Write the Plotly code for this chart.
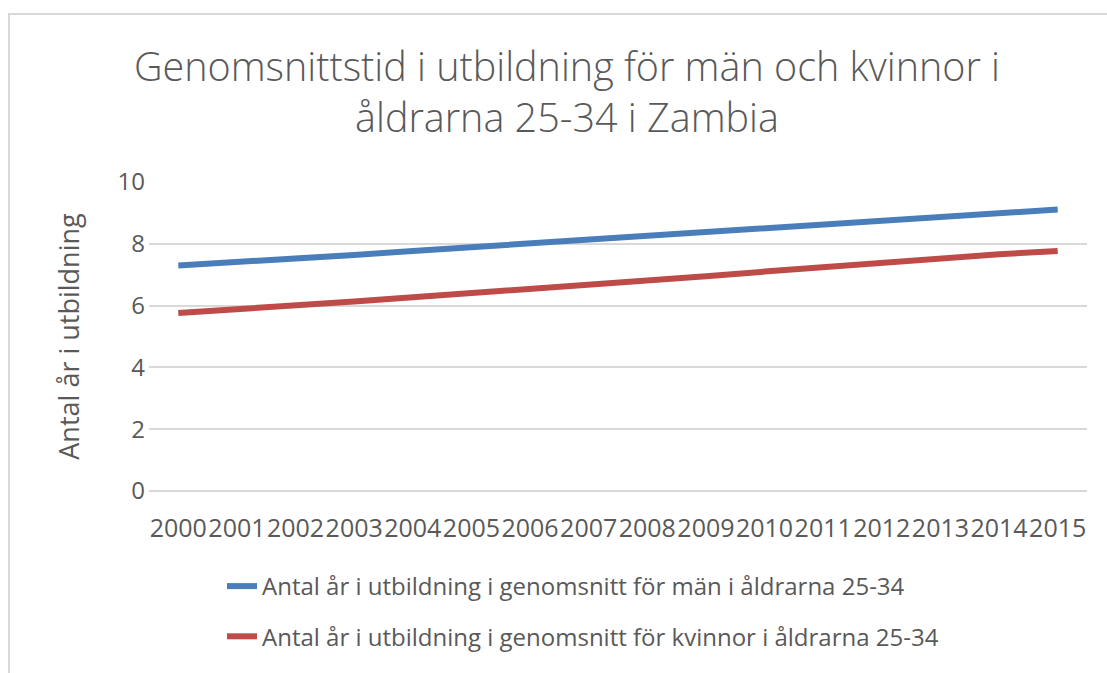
import plotly.graph_objects as go

years = list(range(2000, 2016))
men = [7.30, 7.40, 7.52, 7.64, 7.77, 7.89, 8.02, 8.13, 8.26, 8.39, 8.52, 8.64, 8.76, 8.88, 8.99, 9.11]
women = [5.76, 5.87, 6.00, 6.13, 6.27, 6.40, 6.53, 6.65, 6.80, 6.95, 7.10, 7.25, 7.40, 7.54, 7.66, 7.77]
series_names = [
    "Antal år i utbildning i genomsnitt för män i åldrarna 25-34",
    "Antal år i utbildning i genomsnitt för kvinnor i åldrarna 25-34",
]
series_colors = ["#4a7ebb", "#be4b48"]
title_text = "Genomsnittstid i utbildning för män och kvinnor i<br>åldrarna 25-34 i Zambia"
y_title = "Antal år i utbildning"
y_ticks = [0, 2, 4, 6, 8, 10]

W, H = 1107, 673
L, R, T, B = 149, 20, 182, 182
pw, ph = W - L - R, H - T - B

def px_x(p):
    return (p - L) / pw

def px_y(p):
    return (H - B - p) / ph

FONT = "Open Sans"
GREY = "#595959"

fig = go.Figure()
for i, vals in enumerate([men, women]):
    fig.add_trace(go.Scatter(
        x=years, y=vals, mode="lines", name=series_names[i],
        legendgroup=f"g{i}",
        line=dict(color=series_colors[i], width=6),
        hoverinfo="skip",
    ))

fig.update_layout(
    width=W, height=H,
    margin=dict(l=L, r=R, t=T, b=B, pad=0, autoexpand=False),
    paper_bgcolor="white", plot_bgcolor="white",
    font=dict(family=FONT, color=GREY),
    title=dict(
        text=title_text, x=567 / W, xanchor="center", xref="container",
        y=1 - 81 / H, yanchor="top", yref="container",
        font=dict(family=FONT, size=39.5, color=GREY, weight=300),
    ),
    xaxis=dict(
        range=[1999.5, 2015.5], tickmode="array", tickvals=years,
        ticktext=[str(y) for y in years], tickangle=0, automargin=False,
        showgrid=False, zeroline=False, showline=False, ticks="",
        tickfont=dict(family=FONT, size=25, color=GREY),
        ticklabelstandoff=20,
    ),
    yaxis=dict(
        range=[0, 10], tickmode="array", tickvals=y_ticks, automargin=False,
        showgrid=True, gridcolor="#d9d9d9", gridwidth=2,
        zeroline=True, zerolinecolor="#d9d9d9", zerolinewidth=2,
        showline=False, ticks="",
        tickfont=dict(family=FONT, size=24, color=GREY),
        ticklabelstandoff=3,
        title=dict(text=y_title, standoff=30,
                   font=dict(family=FONT, size=27, color=GREY)),
    ),
    showlegend=True,
    legend=dict(
        orientation="v", x=px_x(222), xanchor="left", y=px_y(564), yanchor="top",
        font=dict(family=FONT, size=24, color=GREY),
        tracegroupgap=16, bgcolor="rgba(0,0,0,0)",
    ),
    shapes=[dict(
        type="rect", xref="paper", yref="paper",
        x0=px_x(9), x1=px_x(1130), y0=px_y(700), y1=px_y(14),
        line=dict(color="#d9d9d9", width=2), fillcolor="rgba(0,0,0,0)",
        layer="below",
    )],
)

fig.write_html(
    "out.html",
    config={"displayModeBar": False},
    post_script="document.body.style.margin='0px';",
)
